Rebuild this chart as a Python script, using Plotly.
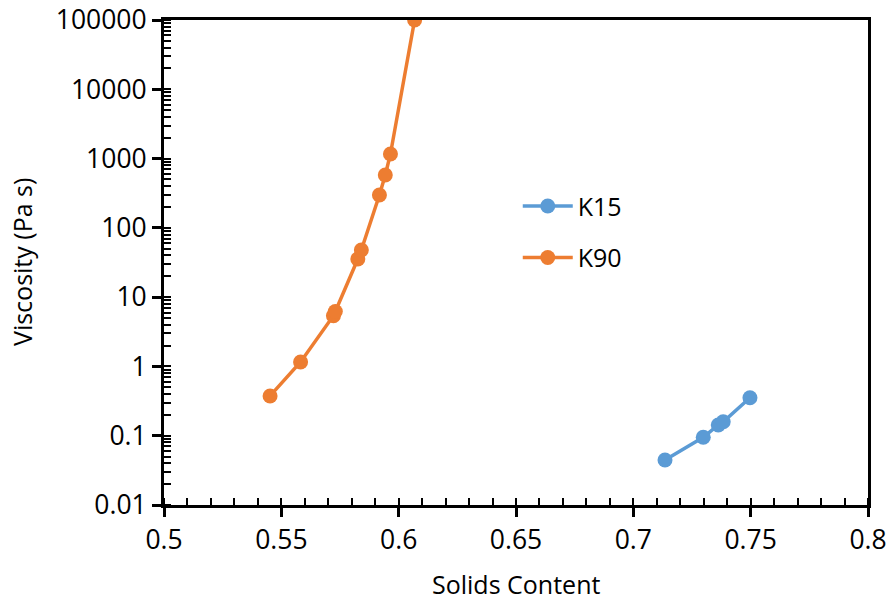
import plotly.graph_objects as go

k15_x = [0.7135, 0.7298, 0.7362, 0.7383, 0.7497]
k15_y = [0.0446, 0.0948, 0.143, 0.159, 0.354]
k90_x = [0.5452, 0.5582, 0.5722, 0.5730, 0.5826, 0.5841, 0.5918, 0.5943, 0.5965, 0.6068]
k90_y = [0.375, 1.16, 5.4, 6.2, 35.5, 48.0, 298, 579, 1164, 100000]

y_tickvals = [0.01, 0.1, 1, 10, 100, 1000, 10000, 100000]
y_ticktext = ["0.01", "0.1", "1", "10", "100", "1000", "10000", "100000"]
x_tickvals = [0.5, 0.55, 0.6, 0.65, 0.7, 0.75, 0.8]
x_ticktext = ["0.5", "0.55", "0.6", "0.65", "0.7", "0.75", "0.8"]

FONT = "Open Sans"
fig = go.Figure()
fig.add_trace(go.Scatter(x=k15_x, y=k15_y, name="K15", mode="lines+markers", legendgroup="a",
                         line=dict(color="#5B9BD5", width=3.5),
                         marker=dict(color="#5B9BD5", size=15)))
fig.add_trace(go.Scatter(x=k90_x, y=k90_y, name="K90", mode="lines+markers", legendgroup="b",
                         line=dict(color="#ED7D31", width=3.5),
                         marker=dict(color="#ED7D31", size=15)))

fig.update_layout(
    width=891, height=600,
    margin=dict(l=164, r=23, t=20, b=95),
    paper_bgcolor="white", plot_bgcolor="white",
    font=dict(family=FONT, size=25, color="black"),
    legend=dict(x=0.5025, y=0.6635, xanchor="left", yanchor="top",
                font=dict(family=FONT, size=25, color="black"),
                bgcolor="rgba(0,0,0,0)", tracegroupgap=16, itemwidth=50),
    xaxis=dict(range=[0.5, 0.8], tickvals=x_tickvals, ticktext=x_ticktext,
               showgrid=False, zeroline=False, automargin=False, ticklabeloverflow="allow",
               showline=True, linecolor="black", linewidth=3, mirror=True,
               ticks="outside", ticklen=9, tickwidth=3, tickcolor="black",
               tickfont=dict(family=FONT, size=26.5),
               minor=dict(ticks="inside", ticklen=7, tickwidth=2, tickcolor="black", dtick=0.01, showgrid=False)),
    yaxis=dict(type="log", range=[-2, 5], tickvals=y_tickvals, ticktext=y_ticktext,
               showgrid=False, zeroline=False, automargin=False, ticklabeloverflow="allow",
               showline=True, linecolor="black", linewidth=3, mirror=True,
               ticks="outside", ticklen=9, tickwidth=3, tickcolor="black",
               tickfont=dict(family=FONT, size=26.5),
               minor=dict(ticks="inside", ticklen=7, tickwidth=2, tickcolor="black", dtick="D1", showgrid=False)),
    annotations=[
        dict(text="Solids Content", xref="paper", yref="paper", x=0.5, y=-0.163,
             xanchor="center", yanchor="middle", showarrow=False,
             font=dict(family=FONT, size=25, color="black")),
        dict(text="Viscosity (Pa s)", xref="paper", yref="paper", x=-0.2017, y=0.501,
             xanchor="center", yanchor="middle", textangle=-90, showarrow=False,
             font=dict(family=FONT, size=25, color="black")),
    ],
)
fig.write_html("out.html", config={"displayModeBar": False},
               post_script="document.body.style.margin='0';")
